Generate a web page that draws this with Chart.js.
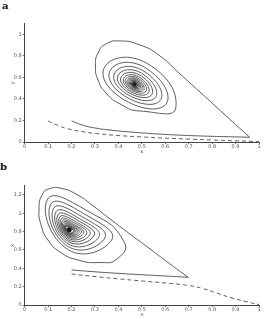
<!doctype html>
<html>

<head>
  <title>phase portraits a / b</title>
  <script src="https://cdn.jsdelivr.net/npm/chart.js@4.4.0/dist/chart.umd.min.js"></script>
  <style>
    body {
      margin: 0;
      background: #fff;
      width: 269px;
      height: 319px;
      position: relative;
      overflow: hidden;
    }
    .panel {
      position: absolute;
      left: 0;
    }
    .tag {
      position: absolute;
      font-family: 'DejaVu Serif', serif;
      font-weight: bold;
      font-size: 10px;
      line-height: 10px;
      color: #111;
    }
  </style>
</head>

<body>
  <div class="tag" style="left:2px; top:1px">a</div>
  <canvas id="chartA" class="panel" style="top:0" width="269" height="160"></canvas>
  <div class="tag" style="left:0px; top:162px">b</div>
  <canvas id="chartB" class="panel" style="top:160px" width="269" height="159"></canvas>

  <script>
    // tick labels
    var xTicks = [0, 0.1, 0.2, 0.3, 0.4, 0.5, 0.6, 0.7, 0.8, 0.9, 1];
    var yTicksA = [0, 0.2, 0.4, 0.6, 0.8, 1];
    var yTicksB = [0, 0.2, 0.4, 0.6, 0.8, 1, 1.2];
    var yMaxA = 1.1;
    var yMaxB = 1.3;

    // panel a: trajectory from (0.2, 0.2) along the bottom, corner, big loop, then the spiral
    var lowerA = [[0.2, 0.195], [0.25, 0.155], [0.3, 0.13], [0.36, 0.112], [0.45, 0.093], [0.55, 0.077],
      [0.65, 0.065], [0.75, 0.056], [0.85, 0.05], [0.96, 0.044]];
    var outerA = [[0.96, 0.044], [0.855, 0.251], [0.748, 0.464], [0.663, 0.631], [0.577, 0.799], [0.492, 0.901],
      [0.407, 0.938], [0.347, 0.910], [0.313, 0.826], [0.302, 0.706], [0.313, 0.576], [0.347, 0.455],
      [0.407, 0.353], [0.492, 0.288]];
    var spiralA = [
      [0.645, 0.318], [0.520, 0.732], [0.341, 0.695], [0.428, 0.387],
      [0.606, 0.362], [0.510, 0.695], [0.365, 0.665], [0.436, 0.415],
      [0.581, 0.394], [0.502, 0.666], [0.384, 0.641], [0.442, 0.437],
      [0.560, 0.420], [0.496, 0.642], [0.399, 0.622], [0.447, 0.455],
      [0.543, 0.442], [0.491, 0.622], [0.412, 0.606], [0.450, 0.470],
      [0.529, 0.459], [0.486, 0.606], [0.423, 0.593], [0.454, 0.482],
      [0.518, 0.473], [0.483, 0.593], [0.431, 0.582], [0.456, 0.492],
      [0.508, 0.485], [0.480, 0.582], [0.438, 0.574], [0.458, 0.500],
      [0.501, 0.494], [0.478, 0.574], [0.443, 0.567], [0.460, 0.507],
      [0.495, 0.502], [0.476, 0.567], [0.448, 0.561], [0.462, 0.512],
      [0.490, 0.508], [0.475, 0.561], [0.451, 0.557], [0.463, 0.517],
      [0.486, 0.513], [0.473, 0.556], [0.455, 0.553], [0.464, 0.520],
      [0.482, 0.518], [0.472, 0.553], [0.457, 0.549], [0.465, 0.523],
      [0.480, 0.521], [0.472, 0.550], [0.459, 0.547], [0.465, 0.525],
      [0.477, 0.524], [0.471, 0.547], [0.460, 0.545], [0.466, 0.527]];
    var focusA = [0.468, 0.535];
    var dashedA = [[0.1, 0.195], [0.14, 0.155], [0.18, 0.125], [0.25, 0.095], [0.32, 0.075], [0.4, 0.06],
      [0.5, 0.047], [0.6, 0.036], [0.7, 0.027], [0.8, 0.019], [0.9, 0.011], [1.0, 0.003]];

    // panel b
    var lowerB = [[0.2, 0.382], [0.3, 0.362], [0.4, 0.345], [0.5, 0.33], [0.6, 0.316], [0.698, 0.302]];
    var outerB = [[0.698, 0.302], [0.620, 0.447], [0.535, 0.611], [0.449, 0.774], [0.364, 0.938], [0.287, 1.091],
      [0.219, 1.210], [0.159, 1.270], [0.108, 1.270], [0.074, 1.200], [0.061, 1.036], [0.070, 0.872],
      [0.099, 0.709], [0.151, 0.578], [0.227, 0.491], [0.321, 0.463], [0.394, 0.502]];
    var spiralB = [
      [0.425, 0.685], [0.282, 1.006], [0.098, 1.155], [0.186, 0.603],
      [0.372, 0.715], [0.266, 0.976], [0.112, 1.101], [0.186, 0.637],
      [0.342, 0.732], [0.253, 0.951], [0.124, 1.056], [0.186, 0.666],
      [0.317, 0.745], [0.243, 0.929], [0.134, 1.018], [0.186, 0.691],
      [0.296, 0.757], [0.234, 0.912], [0.142, 0.986], [0.186, 0.711],
      [0.278, 0.767], [0.226, 0.897], [0.149, 0.959], [0.186, 0.728],
      [0.264, 0.775], [0.220, 0.884], [0.155, 0.936], [0.186, 0.743],
      [0.251, 0.782], [0.214, 0.873], [0.160, 0.917], [0.186, 0.755],
      [0.241, 0.788], [0.210, 0.865], [0.164, 0.901], [0.186, 0.765],
      [0.232, 0.793], [0.206, 0.857], [0.168, 0.888], [0.186, 0.773],
      [0.225, 0.797], [0.203, 0.851], [0.171, 0.877], [0.186, 0.780],
      [0.218, 0.800], [0.200, 0.846], [0.173, 0.867], [0.186, 0.787],
      [0.213, 0.803], [0.198, 0.841], [0.175, 0.860], [0.186, 0.792],
      [0.209, 0.805], [0.196, 0.837], [0.177, 0.853], [0.186, 0.796]];
    var focusB = [0.19, 0.822];
    var dashedB = [[0.2, 0.338], [0.3, 0.31], [0.4, 0.285], [0.5, 0.262], [0.6, 0.24], [0.7, 0.212],
      [0.76, 0.18], [0.82, 0.13], [0.88, 0.08], [0.94, 0.04], [1.0, 0.005]];

    var lineColor = '#333';
    var axisColor = '#444';
    var labelFont = {family: 'DejaVu Sans', size: 5};

    function pts(list) {
      return list.map(function(p) {
        return {x: p[0], y: p[1]};
      });
    }

    function curve(list, dashed) {
      return {
        data: pts(list),
        showLine: true,
        borderColor: lineColor,
        borderWidth: 0.8,
        borderDash: dashed ? [4, 3] : [],
        pointRadius: 0,
        tension: 0.55
      };
    }

    function dot(p, r) {
      return {
        data: pts([p]),
        showLine: false,
        pointRadius: r,
        pointBorderWidth: 0,
        pointBackgroundColor: '#111'
      };
    }

    function panel(id, datasets, yMax, yTicks, xTitle, yTitle, box) {
      return new Chart(document.getElementById(id), {
        type: 'scatter',
        data: {datasets: datasets},
        options: {
          responsive: false,
          animation: false,
          devicePixelRatio: 1,
          events: [],
          layout: {padding: {top: box.top, right: 10, left: 0, bottom: 0}},
          plugins: {legend: {display: false}, tooltip: {enabled: false}},
          scales: {
            x: {
              type: 'linear',
              min: 0,
              max: 1,
              afterBuildTicks: function(axis) {
                axis.ticks = xTicks.map(function(v) { return {value: v}; });
              },
              afterFit: function(axis) { axis.height = box.xHeight; },
              ticks: {font: labelFont, color: '#555', padding: 0, maxRotation: 0, autoSkip: false,
                callback: function(v) { return String(v); }},
              grid: {drawOnChartArea: false, tickLength: 2, color: axisColor, lineWidth: 0.8},
              border: {color: axisColor, width: 1},
              title: {display: true, text: xTitle, font: labelFont, color: '#444',
                padding: {top: 0, bottom: box.titlePad}}
            },
            y: {
              type: 'linear',
              min: 0,
              max: yMax,
              afterBuildTicks: function(axis) {
                axis.ticks = yTicks.map(function(v) { return {value: v}; });
              },
              afterFit: function(axis) { axis.width = 24.7; },
              ticks: {font: labelFont, color: '#555', padding: 1,
                callback: function(v) { return String(v); }},
              grid: {drawOnChartArea: false, tickLength: 2, color: axisColor, lineWidth: 0.8},
              border: {color: axisColor, width: 1},
              title: {display: true, text: yTitle, font: labelFont, color: '#444',
                padding: {top: 10, bottom: 0}}
            }
          }
        }
      });
    }

    panel('chartA', [
      curve(lowerA, false),
      curve(outerA.concat(spiralA), false),
      curve(dashedA, true),
      dot(focusA, 2)
    ], yMaxA, yTicksA, 'x', 'y', {top: 23.5, xHeight: 18, titlePad: 5.3});

    panel('chartB', [
      curve(lowerB, false),
      curve(outerB.concat(spiralB), false),
      curve(dashedB, true),
      dot(focusB, 2.5)
    ], yMaxB, yTicksB, 's', 'x', {top: 25.8, xHeight: 14, titlePad: 1});
  </script>
</body>

</html>
